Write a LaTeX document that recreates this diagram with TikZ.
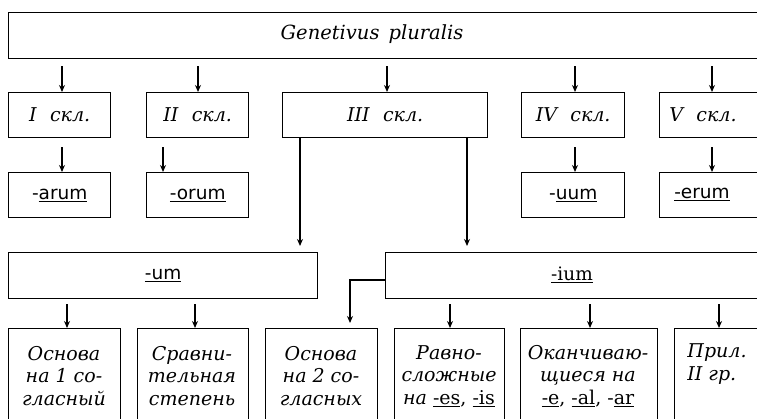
\documentclass[tikz,border=0pt]{standalone}
\usepackage{fontspec}
\setmainfont{DejaVu Serif}
\newfontfamily\sansend{DejaVu Sans}
\usetikzlibrary{arrows.meta,calc}
\begin{document}
\begin{tikzpicture}[x=1pt,y=-1pt,
  box/.style={draw, line width=1.4pt, inner sep=0pt, anchor=north west, align=center,
    font=\fontsize{19}{22.5}\selectfont\itshape},
  lbl/.style={font=\fontsize{19}{22.5}\selectfont\itshape, align=center, inner sep=0pt},
  endbox/.style={box, font=\fontsize{18.5}{22}\selectfont\sansend},
  endlbl/.style={font=\fontsize{18.5}{22}\selectfont\sansend, inner sep=0pt},
  arr/.style={line width=1.3pt, -{Stealth[length=7pt,width=6pt]}}]
\useasboundingbox (0,0) rectangle (757,419);
\clip (0,0) rectangle (757,419);
\fill[white] (0,0) rectangle (757,419);
% row 1
\node[box, minimum width=780pt, minimum height=46pt] (top) at (8,12) {};
\node[lbl, font=\fontsize{19.5}{22.5}\selectfont\itshape] (toptext) at (372,34) {Genetivus\hspace{0.15em} pluralis};
% row 2
\node[box, minimum width=102pt, minimum height=45pt] (b1) at (8,92) {I\hspace{0.7em}скл.};
\node[box, minimum width=102pt, minimum height=45pt] (b2) at (146,92) {II\hspace{0.7em}скл.};
\node[box, minimum width=205pt, minimum height=45pt] (b3) at (282,92) {III\hspace{0.7em}скл.};
\node[box, minimum width=103pt, minimum height=45pt] (b4) at (521,92) {IV\hspace{0.7em}скл.};
\node[box, minimum width=120pt, minimum height=45pt] (b5) at (659,92) {};
\node[lbl] (b5text) at (703,114.5) {V\hspace{0.7em}скл.};
% row 3
\node[endbox, minimum width=102pt, minimum height=45pt] (e1) at (8,172) {-\underline{arum}};
\node[endbox, minimum width=102pt, minimum height=45pt] (e2) at (146,172) {\underline{-orum}};
\node[endbox, minimum width=103pt, minimum height=45pt] (e4) at (521,172) {-\underline{uum}};
\node[endbox, minimum width=120pt, minimum height=45pt] (e5) at (659,172) {};
\node[endlbl] (e5text) at (702,194.5) {\underline{-erum}};
% row 4
\node[endbox, minimum width=309pt, minimum height=46pt] (um) at (8,252) {\underline{-um}};
\node[box, minimum width=400pt, minimum height=46pt] (ium) at (385,252) {};
\node[lbl, font=\fontsize{18.5}{22}\selectfont] (iumtext) at (572,275) {\underline{-ium}};
% row 5
\node[box, minimum width=112pt, minimum height=110pt] (c1) at (8,328) {};
\node[box, minimum width=111pt, minimum height=110pt] (c2) at (137,328) {};
\node[box, minimum width=112pt, minimum height=110pt] (c3) at (265,328) {};
\node[box, minimum width=110pt, minimum height=110pt] (c4) at (394,328) {};
\node[box, minimum width=137pt, minimum height=110pt] (c5) at (520,328) {};
\node[box, minimum width=110pt, minimum height=110pt] (c6) at (674,328) {};
\node[lbl] (c1text) at (64,376) {Основа\\на 1 со-\\гласный};
\node[lbl] (c2text) at (192,376) {Сравни-\\тельная\\степень};
\node[lbl] (c3text) at (321,376) {Основа\\на 2 со-\\гласных};
\node[lbl] (c4text) at (449,376) {Равно-\\сложные\\на {\upshape\underline{-es}, \underline{-is}}};
\node[lbl] (c5text) at (588,376) {Оканчиваю-\\щиеся на\\{\upshape\underline{-e}, \underline{-al}, -\underline{ar}}};
\node[lbl, align=left] (c6text) at (717,364) {Прил.\\II гр.};
% coordinates for arrow columns
\coordinate (x62) at (62,0);
\coordinate (x198) at (198,0);
\coordinate (x387) at (387,0);
\coordinate (x575) at (575,0);
\coordinate (x712) at (712,0);
\coordinate (x163) at (163,0);
\coordinate (x300) at (300,0);
\coordinate (x467) at (467,0);
\coordinate (x67) at (67,0);
\coordinate (x195) at (195,0);
\coordinate (x450) at (450,0);
\coordinate (x590) at (590,0);
\coordinate (x719) at (719,0);
\coordinate (x350) at (350,0);
\coordinate (y280) at (0,280);
% arrows row1 -> row2
\draw[arr, shorten <=7pt] (top.south -| x62) -- (b1.north -| x62);
\draw[arr, shorten <=7pt] (top.south -| x198) -- (b2.north -| x198);
\draw[arr, shorten <=7pt] (top.south -| x387) -- (b3.north -| x387);
\draw[arr, shorten <=7pt] (top.south -| x575) -- (b4.north -| x575);
\draw[arr, shorten <=7pt] (top.south -| x712) -- (b5.north -| x712);
% row2 -> row3
\draw[arr, shorten <=9pt] (b1.south -| x62) -- (e1.north -| x62);
\draw[arr, shorten <=9pt] (b2.south -| x163) -- (e2.north -| x163);
\draw[arr, shorten <=9pt] (b4.south -| x575) -- (e4.north -| x575);
\draw[arr, shorten <=9pt] (b5.south -| x712) -- (e5.north -| x712);
% III -> um / ium
\draw[arr, shorten >=6pt] (b3.south -| x300) -- (um.north -| x300);
\draw[arr, shorten >=6pt] (b3.south -| x467) -- (ium.north -| x467);
% row4 -> row5
\draw[arr, shorten <=5pt] (um.south -| x67) -- (c1.north -| x67);
\draw[arr, shorten <=5pt] (um.south -| x195) -- (c2.north -| x195);
\draw[arr, shorten <=5pt] (ium.south -| x450) -- (c4.north -| x450);
\draw[arr, shorten <=5pt] (ium.south -| x590) -- (c5.north -| x590);
\draw[arr, shorten <=5pt] (ium.south -| x719) -- (c6.north -| x719);
\draw[arr, shorten >=5pt] (ium.west |- y280) -| (c3.north -| x350);
\end{tikzpicture}
\end{document}
